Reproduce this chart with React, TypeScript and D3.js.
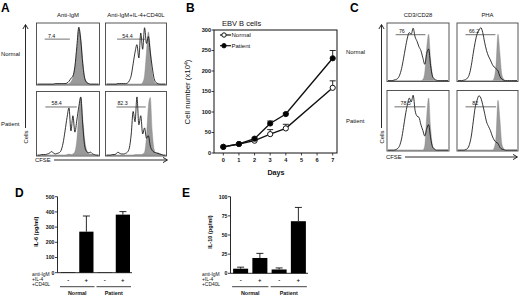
import React from 'react';
import * as d3 from 'd3';

const FONT = "'Liberation Sans', Arial, Helvetica, sans-serif";

// ---------- Panel A data (CFSE histograms, 32 bins, % of max) ----------
const aColumns = ['Anti-IgM', 'Anti-IgM+IL-4+CD40L'];
const aRows = ['Normal', 'Patient'];
const aNormIgMLine = [0,0,0,0,0,0,0,0,0,1,1,1,1,1,1,2,5,10,14,30,65,98,75,35,10,3,1,0,0,0,0,0];
const aNormIgMFill = [0,0,0,0,0,0,0,0,0,0,0,0,0,0,0,0,1,4,12,30,60,95,80,40,12,4,1,0,0,0,0,0];
const aNormStimLine = [0,0,0,0,0,0,1,1,1,1,1,2,6,15,35,55,68,45,88,60,97,70,82,55,30,10,3,1,0,0,0,0];
const aNormStimFill = [0,0,0,0,0,0,0,0,0,0,0,0,0,0,0,0,0,0,0,3,15,55,90,60,20,5,1,0,0,0,0,0];
const aPatIgMLine = [0,0,1,1,1,2,3,6,4,2,3,4,8,20,40,62,78,40,65,38,58,80,96,50,15,6,4,5,2,1,0,0];
const aPatIgMFill = [0,0,0,0,0,0,0,0,0,0,0,0,0,0,0,1,2,1,2,6,25,70,95,60,25,8,3,2,1,0,0,0];
const aPatStimLine = [0,0,0,1,1,2,5,3,2,2,3,5,12,35,72,55,96,50,65,35,45,28,32,15,8,5,4,3,2,1,0,0];
const aPatStimFill = [0,0,0,0,0,0,0,0,0,0,0,0,0,0,0,1,1,1,1,2,5,30,80,95,40,10,3,4,2,1,0,0];
const aGateLabels = ['7.4', '54.4', '58.4', '82.3'];

// ---------- Panel C data ----------
const cColumns = ['CD3/CD28', 'PHA'];
const cRows = ['Normal', 'Patient'];
const cNormCD3Line = [0,0,0,1,2,4,10,22,40,60,78,88,85,96,80,72,62,55,42,30,50,58,28,8,3,1,0,0,0,0,0,0];
const cNormCD3Fill = [0,0,0,0,0,0,0,0,0,0,0,0,0,0,0,0,0,0,2,15,60,85,40,10,2,0,0,0,0,0,0,0];
const cNormPHALine = [0,0,0,1,2,5,12,28,50,70,85,92,97,88,70,55,45,38,30,25,22,18,8,3,1,0,0,0,0,0,0,0];
const cNormPHAFill = [0,0,0,0,0,0,0,0,0,0,0,0,0,0,0,0,0,0,0,5,30,85,50,12,3,0,0,0,0,0,0,0];
const cPatCD3Line = [0,0,0,0,1,3,8,20,40,62,80,92,85,97,70,60,58,45,35,25,38,45,22,6,2,0,0,0,0,0,0,0];
const cPatCD3Fill = [0,0,0,0,0,0,0,0,0,0,0,0,0,0,0,0,0,0,0,8,60,92,40,8,2,0,0,0,0,0,0,0];
const cPatPHALine = [0,0,0,0,1,3,10,25,50,75,88,96,92,80,65,50,42,35,25,18,14,12,5,2,1,0,0,0,0,0,0,0];
const cPatPHAFill = [0,0,0,0,0,0,0,0,0,0,0,0,0,0,0,0,0,0,0,4,25,88,55,12,3,0,0,0,0,0,0,0];
const cGateLabels = ['76', '66.2', '78.5', '82'];

// ---------- Panel B data ----------
const days = [0, 1, 2, 3, 4, 7];
const normalCells = [15, 22, 30, 46, 60, 159];
const normalErr = [0, 0, 2, 11, 10, 17];
const patientCells = [15, 22, 35, 72, 95, 231];
const patientErr = [0, 0, 2, 6, 2, 19];
const bYTicks = [0, 50, 100, 150, 200, 250, 300];
const bXTicks = [0, 1, 2, 3, 4, 5, 6, 7];

// ---------- Panels D / E data ----------
const barGroups = ['Normal', 'Patient'];
const barSigns = ['-', '+', '-', '+'];
const conditionLabels = ['anti-IgM', '+IL-4', '+CD40L'];
const il6Values = [3, 270, 2, 382];
const il6Err = [0, 103, 0, 20];
const il6Ticks = [0, 100, 200, 300, 400, 500];
const il10Values = [6, 20, 5, 68];
const il10Err = [2, 6, 2, 18];
const il10Ticks = [0, 25, 50, 75, 100];

type Gate = { s: number; e: number; y: number; lx: number; label: string };

function Flow({ x0, x1, y0, y1, line, fill, gate }: { x0: number; x1: number; y0: number; y1: number; line: number[]; fill: number[]; gate: Gate }) {
  const xs = d3.scaleLinear().domain([0, line.length - 1]).range([x0 + 1, x1 - 1]);
  const ys = d3.scaleLinear().domain([0, 100]).range([y1 - 0.8, y0 + 3]);
  const area = d3.area<number>().x((_, i) => xs(i)).y0(ys(0)).y1((d) => ys(d)).curve(d3.curveMonotoneX);
  const ln = d3.line<number>().x((_, i) => xs(i)).y((d) => ys(d)).curve(d3.curveMonotoneX);
  const w = x1 - x0;
  const h = y1 - y0;
  const gy = y0 + gate.y * h;
  return (
    <g>
      <path d={area(fill) || ''} fill="#9a9a9a" stroke="#808080" strokeWidth={0.4} />
      <path d={ln(line) || ''} fill="none" stroke="#111" strokeWidth={0.85} />
      <rect x={x0} y={y0} width={w} height={h} fill="none" stroke="#444" strokeWidth={0.9} />
      <line x1={x0 + gate.s * w} x2={x0 + gate.e * w} y1={gy} y2={gy} stroke="#333" strokeWidth={0.7} />
      <text x={x0 + gate.lx * w} y={gy - 1.5} fontSize={5.3} fontFamily={FONT} textAnchor="middle" fill="#111">{gate.label}</text>
    </g>
  );
}

function FlowGrid({ cols, rows, colX, rowY, titles, rowLabels, lines, fills, gates, rowLabelX, arrowX, cfseX, cfseY, arrowEnd }: any) {
  const top = rowY[0][0];
  return (
    <g>
      {titles.map((t: string, i: number) => (
        <text key={t} x={(colX[i][0] + colX[i][1]) / 2} y={17} fontSize={5.9} fontFamily={FONT} textAnchor="middle" fill="#111">{t}</text>
      ))}
      {rowLabels.map((t: string, i: number) => (
        <text key={t} x={rowLabelX} y={(rowY[i][0] + rowY[i][1]) / 2 + 2} fontSize={5.9} fontFamily={FONT} fill="#111">{t}</text>
      ))}
      {rows.map((_: any, r: number) =>
        cols.map((__: any, c: number) => (
          <Flow key={`${r}-${c}`} x0={colX[c][0]} x1={colX[c][1]} y0={rowY[r][0]} y1={rowY[r][1]} line={lines[r * 2 + c]} fill={fills[r * 2 + c]} gate={gates[r * 2 + c]} />
        ))
      )}
      <line x1={arrowX} x2={arrowX} y1={top + 2} y2={128} stroke="#111" strokeWidth={0.9} />
      <polyline points={`${arrowX - 2.6},${top + 6} ${arrowX},${top + 1.5} ${arrowX + 2.6},${top + 6}`} fill="none" stroke="#111" strokeWidth={0.9} />
      <text transform={`translate(${arrowX + 2},${137}) rotate(-90)`} fontSize={5.9} fontFamily={FONT} textAnchor="middle" fill="#111">Cells</text>
      <text x={cfseX} y={cfseY + 2} fontSize={5.9} fontFamily={FONT} fill="#111">CFSE</text>
      <line x1={cfseX + 19} x2={arrowEnd} y1={cfseY} y2={cfseY} stroke="#111" strokeWidth={0.9} />
      <polyline points={`${arrowEnd - 4},${cfseY - 2.6} ${arrowEnd + 0.5},${cfseY} ${arrowEnd - 4},${cfseY + 2.6}`} fill="none" stroke="#111" strokeWidth={0.9} />
    </g>
  );
}

function GrowthChart() {
  const x = d3.scaleLinear().domain([0, 7]).range([223.3, 332.7]);
  const y = d3.scaleLinear().domain([0, 300]).range([153, 30]);
  const ln = d3.line<number>().x((_, i) => x(days[i])).y((d) => y(d));
  const series = [
    { name: 'Normal', vals: normalCells, err: normalErr, fill: '#fff' },
    { name: 'Patient', vals: patientCells, err: patientErr, fill: '#000' },
  ];
  return (
    <g fontFamily={FONT}>
      <rect x={214} y={30} width={123} height={123} fill="none" stroke="#111" strokeWidth={1} />
      {bYTicks.map((t) => (
        <g key={t}>
          <line x1={211.5} x2={214} y1={y(t)} y2={y(t)} stroke="#111" strokeWidth={0.8} />
          <text x={211} y={y(t) + 1.9} fontSize={5.6} fontWeight="bold" textAnchor="end" fill="#111">{t}</text>
        </g>
      ))}
      {bXTicks.map((t) => (
        <g key={t}>
          <line x1={x(t)} x2={x(t)} y1={153} y2={155.5} stroke="#111" strokeWidth={0.8} />
          <text x={x(t)} y={162} fontSize={5.6} fontWeight="bold" textAnchor="middle" fill="#111">{t}</text>
        </g>
      ))}
      <text x={276} y={175} fontSize={7.2} fontWeight="bold" textAnchor="middle" fill="#111">Days</text>
      <text transform="translate(190,92) rotate(-90)" fontSize={7.8} textAnchor="middle" fill="#111">
        Cell number (x10<tspan dy={-2.5} fontSize={5}>4</tspan><tspan dy={2.5}>)</tspan>
      </text>
      <text x={222} y={26} fontSize={7.5} fill="#111">EBV B cells</text>
      {series.map((s) => (
        <g key={s.name}>
          <path d={ln(s.vals) || ''} fill="none" stroke="#111" strokeWidth={1.4} />
          {s.vals.map((v, i) =>
            s.err[i] > 0 ? (
              <g key={i}>
                <line x1={x(days[i])} x2={x(days[i])} y1={y(v)} y2={y(v + s.err[i])} stroke="#111" strokeWidth={0.9} />
                <line x1={x(days[i]) - 3} x2={x(days[i]) + 3} y1={y(v + s.err[i])} y2={y(v + s.err[i])} stroke="#111" strokeWidth={0.9} />
              </g>
            ) : null
          )}
          {s.vals.map((v, i) => (
            <circle key={'c' + i} cx={x(days[i])} cy={y(v)} r={2.6} fill={s.fill} stroke="#111" strokeWidth={1} />
          ))}
        </g>
      ))}
      {series.map((s, i) => (
        <g key={'lg' + s.name}>
          <line x1={220} x2={231} y1={35 + i * 10.7} y2={35 + i * 10.7} stroke="#111" strokeWidth={1.2} />
          <circle cx={224} cy={35 + i * 10.7} r={2.2} fill={s.fill} stroke="#111" strokeWidth={1} />
          <text x={231.5} y={37 + i * 10.7} fontSize={6} fill="#111">{s.name}</text>
        </g>
      ))}
    </g>
  );
}

function BarChart({ axisX, xr, y0, y1, max, ticks, values, errs, ylabel, ylabelX, condX }: any) {
  const x = d3.scaleBand<number>().domain([0, 1, 2, 3]).range(xr).paddingInner(0.22).paddingOuter(0.11);
  const y = d3.scaleLinear().domain([0, max]).range([y1, y0]);
  const bw = x.bandwidth();
  return (
    <g fontFamily={FONT}>
      <line x1={axisX} x2={axisX} y1={y0} y2={y1} stroke="#111" strokeWidth={0.9} />
      <line x1={axisX} x2={xr[1]} y1={y1} y2={y1} stroke="#111" strokeWidth={0.9} />
      {ticks.map((t: number) => (
        <g key={t}>
          <line x1={axisX - 2.5} x2={axisX} y1={y(t)} y2={y(t)} stroke="#111" strokeWidth={0.8} />
          <text x={axisX - 3} y={y(t) + 1.8} fontSize={5.2} fontWeight="bold" textAnchor="end" fill="#111">{t}</text>
        </g>
      ))}
      <text transform={`translate(${ylabelX},${(y0 + y1) / 2 - 3}) rotate(-90)`} fontSize={5.6} fontWeight="bold" textAnchor="middle" fill="#111">{ylabel}</text>
      {values.map((v: number, i: number) => (
        <g key={i}>
          <rect x={x(i)} y={y(v)} width={bw} height={y1 - y(v)} fill="#000" />
          {errs[i] > 0 && (
            <g>
              <line x1={(x(i) as number) + bw / 2} x2={(x(i) as number) + bw / 2} y1={y(v)} y2={y(v + errs[i])} stroke="#111" strokeWidth={0.9} />
              <line x1={(x(i) as number) + bw / 2 - 3.5} x2={(x(i) as number) + bw / 2 + 3.5} y1={y(v + errs[i])} y2={y(v + errs[i])} stroke="#111" strokeWidth={0.9} />
            </g>
          )}
          <text x={(x(i) as number) + bw / 2} y={282} fontSize={6} fontWeight="bold" textAnchor="middle" fill="#111">{barSigns[i]}</text>
        </g>
      ))}
      {conditionLabels.map((c, i) => (
        <text key={c} x={condX} y={276 + i * 4.8} fontSize={4.9} fill="#111">{c}</text>
      ))}
      {barGroups.map((g, gi) => {
        const a = x(gi * 2) as number;
        const b = (x(gi * 2 + 1) as number) + bw;
        return (
          <g key={g}>
            <line x1={a - 1} x2={b + 1} y1={286.7} y2={286.7} stroke="#111" strokeWidth={0.8} />
            <text x={(a + b) / 2} y={295} fontSize={5.4} fontWeight="bold" textAnchor="middle" fill="#111">{g}</text>
          </g>
        );
      })}
    </g>
  );
}

export default function App() {
  const aGates: Gate[] = [
    { s: 0.13, e: 0.53, y: 0.26, lx: 0.24, label: aGateLabels[0] },
    { s: 0.19, e: 0.65, y: 0.26, lx: 0.36, label: aGateLabels[1] },
    { s: 0.14, e: 0.64, y: 0.24, lx: 0.32, label: aGateLabels[2] },
    { s: 0.18, e: 0.66, y: 0.24, lx: 0.28, label: aGateLabels[3] },
  ];
  const cGates: Gate[] = [
    { s: 0.14, e: 0.62, y: 0.2, lx: 0.24, label: cGateLabels[0] },
    { s: 0.14, e: 0.63, y: 0.2, lx: 0.28, label: cGateLabels[1] },
    { s: 0.12, e: 0.62, y: 0.27, lx: 0.3, label: cGateLabels[2] },
    { s: 0.14, e: 0.64, y: 0.27, lx: 0.3, label: cGateLabels[3] },
  ];
  return (
    <svg width={520} height={297} style={{ position: 'absolute', left: 0, top: 0, background: '#fff' }}>
      <rect x={0} y={0} width={520} height={297} fill="#fff" />
      <g fontFamily={FONT} fontWeight="bold" fontSize={12} fill="#000">
        <text x={1} y={12}>A</text>
        <text x={186} y={12}>B</text>
        <text x={350} y={12}>C</text>
        <text x={15} y={197}>D</text>
        <text x={182} y={197}>E</text>
      </g>
      <FlowGrid
        cols={aColumns} rows={aRows}
        colX={[[36.5, 99.5], [105.5, 166.5]]} rowY={[[23, 85], [91.5, 156]]}
        titles={aColumns} rowLabels={aRows}
        lines={[aNormIgMLine, aNormStimLine, aPatIgMLine, aPatStimLine]}
        fills={[aNormIgMFill, aNormStimFill, aPatIgMFill, aPatStimFill]}
        gates={aGates} rowLabelX={1} arrowX={25.5} cfseX={35} cfseY={160} arrowEnd={167}
      />
      <FlowGrid
        cols={cColumns} rows={cRows}
        colX={[[387, 449], [457, 518]]} rowY={[[23, 81.5], [90.5, 151]]}
        titles={cColumns} rowLabels={cRows}
        lines={[cNormCD3Line, cNormPHALine, cPatCD3Line, cPatPHALine]}
        fills={[cNormCD3Fill, cNormPHAFill, cPatCD3Fill, cPatPHAFill]}
        gates={cGates} rowLabelX={346} arrowX={381.5} cfseX={386} cfseY={157} arrowEnd={517}
      />
      <GrowthChart />
      <BarChart axisX={57.5} xr={[59, 132]} y0={196.7} y1={272.7} max={500} ticks={il6Ticks}
        values={il6Values} errs={il6Err} ylabel="IL-6 (pg/ml)" ylabelX={38} condX={32} />
      <BarChart axisX={230.5} xr={[231, 308]} y0={196.7} y1={273.3} max={100} ticks={il10Ticks}
        values={il10Values} errs={il10Err} ylabel="IL-10 (pg/ml)" ylabelX={212} condX={202} />
    </svg>
  );
}
